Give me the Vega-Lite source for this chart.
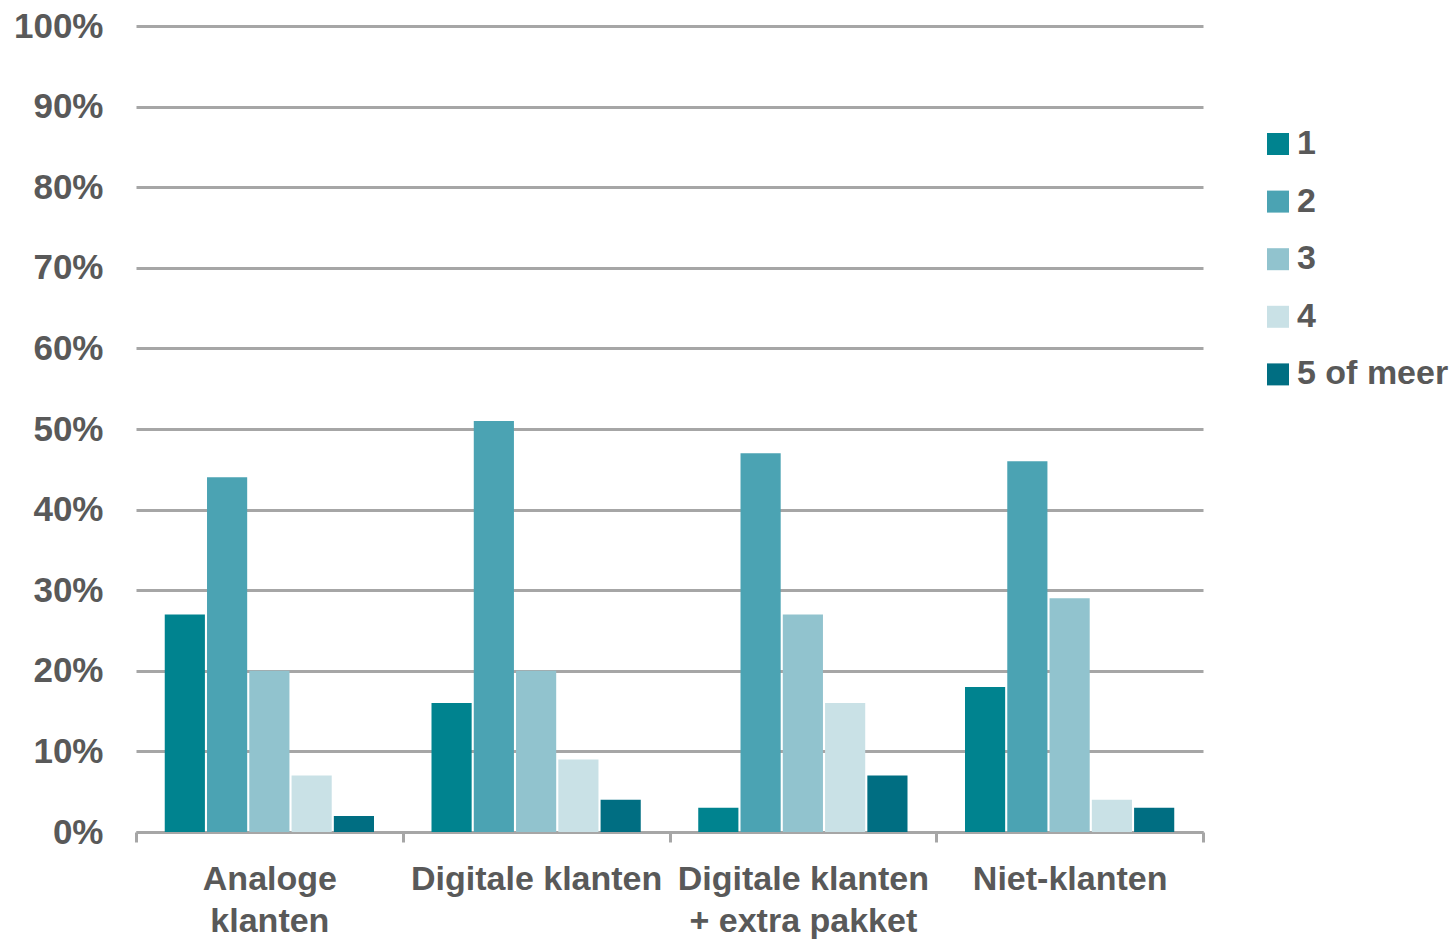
{
  "$schema": "https://vega.github.io/schema/vega-lite/v6.json",
  "width": 1067,
  "height": 806,
  "autosize": {"type": "none"},
  "padding": {"left": 136, "top": 26, "right": 253, "bottom": 111},
  "background": "white",
  "config": {
    "view": {"stroke": null},
    "font": "Liberation Sans",
    "axis": {"labelFont": "Liberation Sans", "labelFontWeight": "bold", "labelColor": "#595959"},
    "legend": {"labelFont": "Liberation Sans", "labelFontWeight": "bold", "labelColor": "#595959"}
  },
  "data": {
    "values": [
      {"groep": "Analoge klanten", "aantal": "1", "pct": 0.27},
      {"groep": "Analoge klanten", "aantal": "2", "pct": 0.44},
      {"groep": "Analoge klanten", "aantal": "3", "pct": 0.20},
      {"groep": "Analoge klanten", "aantal": "4", "pct": 0.07},
      {"groep": "Analoge klanten", "aantal": "5 of meer", "pct": 0.02},
      {"groep": "Digitale klanten", "aantal": "1", "pct": 0.16},
      {"groep": "Digitale klanten", "aantal": "2", "pct": 0.51},
      {"groep": "Digitale klanten", "aantal": "3", "pct": 0.20},
      {"groep": "Digitale klanten", "aantal": "4", "pct": 0.09},
      {"groep": "Digitale klanten", "aantal": "5 of meer", "pct": 0.04},
      {"groep": "Digitale klanten + extra pakket", "aantal": "1", "pct": 0.03},
      {"groep": "Digitale klanten + extra pakket", "aantal": "2", "pct": 0.47},
      {"groep": "Digitale klanten + extra pakket", "aantal": "3", "pct": 0.27},
      {"groep": "Digitale klanten + extra pakket", "aantal": "4", "pct": 0.16},
      {"groep": "Digitale klanten + extra pakket", "aantal": "5 of meer", "pct": 0.07},
      {"groep": "Niet-klanten", "aantal": "1", "pct": 0.18},
      {"groep": "Niet-klanten", "aantal": "2", "pct": 0.46},
      {"groep": "Niet-klanten", "aantal": "3", "pct": 0.29},
      {"groep": "Niet-klanten", "aantal": "4", "pct": 0.04},
      {"groep": "Niet-klanten", "aantal": "5 of meer", "pct": 0.03}
    ]
  },
  "mark": {"type": "bar"},
  "encoding": {
    "x": {
      "field": "groep",
      "type": "nominal",
      "sort": null,
      "scale": {"paddingInner": 0, "paddingOuter": 0},
      "axis": {
        "title": null,
        "labelAngle": 0,
        "labelFontSize": 34,
        "labelLineHeight": 42,
        "labelPadding": 20,
        "labelLimit": 400,
        "tickBand": "extent",
        "tickSize": 10,
        "tickWidth": 3,
        "tickColor": "#A6A6A6",
        "domainColor": "#A6A6A6",
        "domainWidth": 3,
        "grid": false,
        "labelExpr": "datum.value == 'Analoge klanten' ? ['Analoge', 'klanten'] : datum.value == 'Digitale klanten + extra pakket' ? ['Digitale klanten', '+ extra pakket'] : datum.value"
      }
    },
    "xOffset": {
      "field": "aantal",
      "type": "nominal",
      "sort": ["1", "2", "3", "4", "5 of meer"],
      "scale": {"paddingInner": 0.05, "paddingOuter": 0.68}
    },
    "y": {
      "field": "pct",
      "type": "quantitative",
      "scale": {"domain": [0, 1]},
      "axis": {
        "title": null,
        "values": [0, 0.1, 0.2, 0.3, 0.4, 0.5, 0.6, 0.7, 0.8, 0.9, 1],
        "format": ".0%",
        "labelFontSize": 35,
        "labelPadding": 33,
        "ticks": false,
        "domain": false,
        "grid": true,
        "gridColor": "#A6A6A6",
        "gridWidth": 3
      }
    },
    "color": {
      "field": "aantal",
      "type": "nominal",
      "sort": ["1", "2", "3", "4", "5 of meer"],
      "scale": {
        "domain": ["1", "2", "3", "4", "5 of meer"],
        "range": ["#00838F", "#4BA3B3", "#91C3CE", "#C9E1E6", "#006E82"]
      },
      "legend": {
        "title": null,
        "orient": "none",
        "legendX": 1125,
        "legendY": 101,
        "symbolType": "square",
        "symbolSize": 484,
        "symbolStrokeWidth": 0,
        "labelFontSize": 34,
        "labelOffset": 2,
        "rowPadding": 23.6,
        "symbolOffset": 0
      }
    }
  }
}
